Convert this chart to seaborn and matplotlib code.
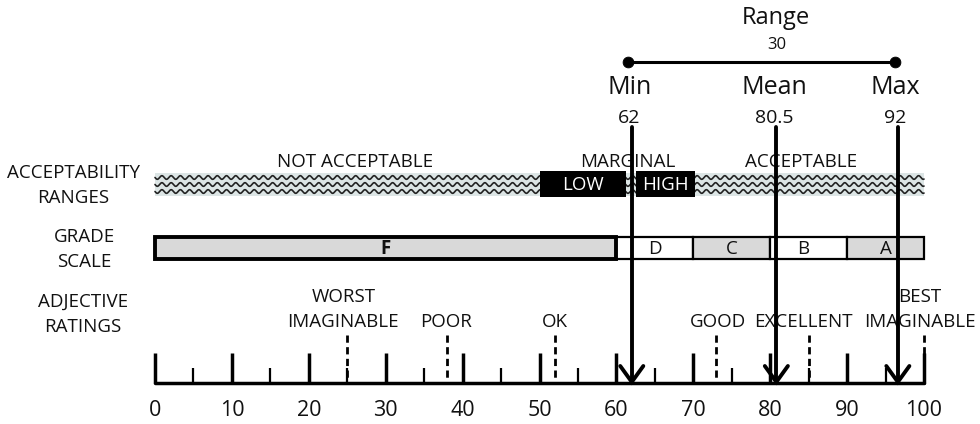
import numpy as np
import seaborn as sns
import matplotlib.pyplot as plt

# Summary statistics shown above the scale
stat_names = ["Min", "Mean", "Max"]
stat_labels = ["62", "80.5", "92"]
arrow_x = [62.0, 80.8, 96.6]
range_label = "30"

# Acceptability ranges
accept_names = ["NOT ACCEPTABLE", "MARGINAL", "ACCEPTABLE"]
accept_label_x = [26, 61.5, 84]
marginal_names = ["LOW", "HIGH"]
marginal_start = [50, 62.6]
marginal_end = [61.3, 70.2]

# Grade scale
grades = ["F", "D", "C", "B", "A"]
grade_start = [0, 60, 70, 80, 90]
grade_end = [60, 70, 80, 90, 100]
grade_label_x = [30, 65, 75, 84.3, 95]

# Adjective ratings
adjectives = ["WORST\nIMAGINABLE", "POOR", "OK", "GOOD", "EXCELLENT", "BEST\nIMAGINABLE"]
adjective_x = [25, 38, 52, 73, 85, 100]
adjective_label_x = [24.5, 37.8, 52, 73.2, 84.3, 99.5]

major_ticks = list(range(0, 101, 10))
minor_ticks = list(range(5, 100, 10))

sns.set_theme(style="white")
plt.rcParams["font.family"] = ["Open Sans", "DejaVu Sans"]

fig = plt.figure(figsize=(9.8, 4.24), dpi=100)
ax = fig.add_axes([0, 0, 1, 1])
scale = 769 / 100
ax.set_xlim(-155 / scale, (980 - 155) / scale)
ax.set_ylim(424, 0)
ax.axis("off")

txt = dict(ha="center", va="center", color="#111111")

# Left-hand row labels
row_labels = [("ACCEPTABILITY", "RANGES", -10.6, 173), ("GRADE", "SCALE", -9.2, 237),
              ("ADJECTIVE", "RATINGS", -9.4, 302)]
for top, bottom, x, y in row_labels:
    ax.text(x, y, top, fontsize=13.5, **txt)
    ax.text(x, y + 25, bottom, fontsize=13.5, **txt)

# Acceptability band with wavy pattern
ax.fill_between([0, 100], 173, 196, color="#dce5e5", lw=0, zorder=1)
wx = np.linspace(0, 100, 3000)
for row in [177.5, 184.5, 191.5]:
    ax.plot(wx, row + 1.8 * np.sin(2 * np.pi * wx / 1.2), color="#222222", lw=1.2, zorder=2)

for name, x in zip(accept_names, accept_label_x):
    ax.text(x, 162, name, fontsize=13.5, **txt)

for name, x0, x1 in zip(marginal_names, marginal_start, marginal_end):
    ax.fill_between([x0, x1], 171, 197, color="black", lw=0, zorder=3)
    ax.text((x0 + x1) / 2, 185, name, ha="center", va="center", fontsize=13.5,
            color="white", zorder=4)

# Grade scale boxes
for g, x0, x1, lx in zip(grades, grade_start, grade_end, grade_label_x):
    face = "white" if g in ("D", "B") else "#d9d9d9"
    lw = 2.8 if g == "F" else 1.6
    ax.add_patch(plt.Rectangle((x0, 237), x1 - x0, 22, facecolor=face,
                               edgecolor="black", lw=lw, zorder=3 if g == "F" else 2))
    ax.text(lx, 248.5, g, fontsize=13.5, fontweight="bold" if g == "F" else "normal",
            zorder=4, **txt)

# Adjective dashed markers and labels
for name, x, lx in zip(adjectives, adjective_x, adjective_label_x):
    ax.plot([x, x], [335, 384], color="black", lw=2, ls=(0, (2.6, 1.6)), zorder=3)
    lines = name.split("\n")
    for i, line in enumerate(reversed(lines)):
        ax.text(lx, 322 - 25 * i, line, fontsize=13.5, **txt)

# Number line
ax.plot([0, 100], [383, 383], color="black", lw=2.5, zorder=3)
ax.vlines(major_ticks, 353, 383, color="black", lw=2.5, zorder=3)
ax.vlines(minor_ticks, 368, 383, color="black", lw=1.6, zorder=3)
for t in major_ticks:
    ax.text(t, 410, str(t), fontsize=15.5, **txt)

# Arrows for min, mean and max
for name, lab, x in zip(stat_names, stat_labels, arrow_x):
    ax.text(x - 0.3, 88, name, fontsize=18, **txt)
    ax.text(x - 0.3, 118, lab, fontsize=14, **txt)
    ax.plot([x, x], [127, 382], color="black", lw=2.8, zorder=5)
    ax.plot([x - 1.5, x, x + 1.5], [366, 382, 366], color="black", lw=2.8,
            solid_joinstyle="miter", zorder=5)

# Range bar between min and max
range_x = [arrow_x[0] - 0.5, arrow_x[2] - 0.4]
ax.plot(range_x, [62, 62], color="black", lw=2.2, zorder=5)
sns.scatterplot(x=range_x, y=[62, 62], color="black", s=60, ax=ax, zorder=6,
                edgecolor="black")
ax.text(arrow_x[1], 18, "Range", fontsize=17, **txt)
ax.text(arrow_x[1], 45, range_label, fontsize=12, **txt)

fig.savefig("out.png", dpi=100)
